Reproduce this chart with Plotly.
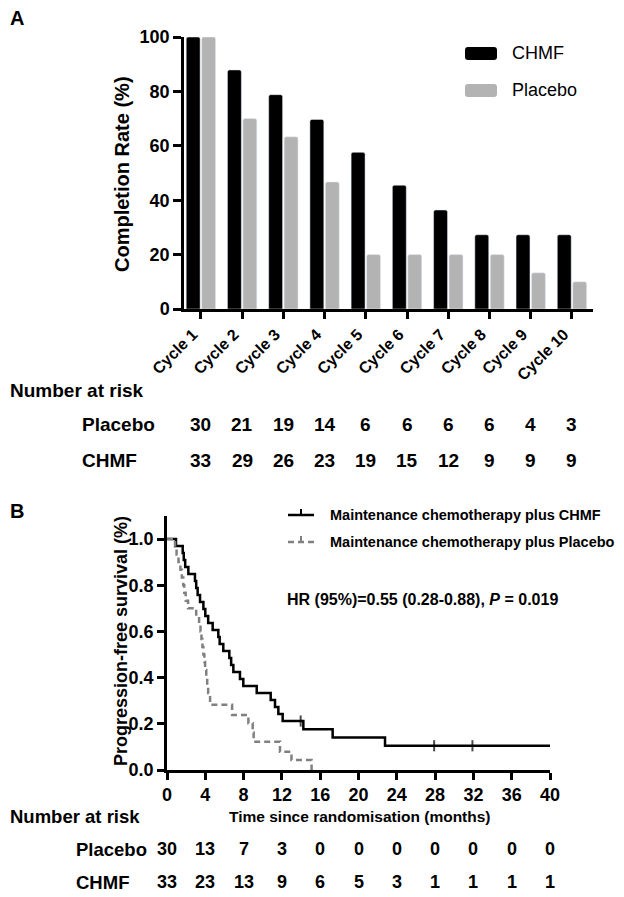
import plotly.graph_objects as go

# ---------------- data ----------------
cycles = ["Cycle 1", "Cycle 2", "Cycle 3", "Cycle 4", "Cycle 5",
          "Cycle 6", "Cycle 7", "Cycle 8", "Cycle 9", "Cycle 10"]
chmf_rate = [100, 87.9, 78.8, 69.7, 57.6, 45.5, 36.4, 27.3, 27.3, 27.3]
placebo_rate = [100, 70.0, 63.3, 46.7, 20.0, 20.0, 20.0, 20.0, 13.3, 10.0]
risk_a_placebo = [30, 21, 19, 14, 6, 6, 6, 6, 4, 3]
risk_a_chmf = [33, 29, 26, 23, 19, 15, 12, 9, 9, 9]

chmf_time = [0, 0.94, 1.64, 1.75, 1.9, 2.23, 2.92, 3.05, 3.2, 3.45, 3.8, 4.0, 4.3,
             4.77, 5.36, 5.5, 5.88, 6.51, 6.7, 6.93, 7.62, 7.97, 9.37, 10.83,
             11.28, 11.63, 12.08, 13.96, 14.24, 17.3, 22.77, 27.9, 31.9, 40]
chmf_surv = [1.0, 0.970, 0.939, 0.909, 0.879, 0.848, 0.818, 0.788, 0.758, 0.727,
             0.697, 0.667, 0.636, 0.606, 0.576, 0.545, 0.515, 0.485, 0.455, 0.424,
             0.394, 0.364, 0.333, 0.303, 0.273, 0.242, 0.212, 0.212, 0.176, 0.141,
             0.105, 0.105, 0.105, 0.105]
chmf_censor = [0] * 27 + [1, 0, 0, 0, 1, 1, 0]

placebo_time = [0, 0.84, 1.0, 1.2, 1.4, 1.55, 1.7, 1.8, 1.95, 2.2, 3.05, 3.35, 3.5,
                3.6, 3.7, 3.8, 3.9, 3.98, 4.1, 4.2, 4.3, 4.5, 6.8, 8.5, 8.95, 9.05,
                11.8, 13.0, 15.1]
placebo_surv = [1.0, 0.967, 0.933, 0.9, 0.867, 0.833, 0.8, 0.767, 0.733, 0.7, 0.667,
                0.633, 0.6, 0.567, 0.533, 0.5, 0.467, 0.433, 0.4, 0.367, 0.333,
                0.283, 0.238, 0.202, 0.162, 0.122, 0.079, 0.043, 0.0]

risk_times = [0, 4, 8, 12, 16, 20, 24, 28, 32, 36, 40]
risk_b_placebo = [30, 13, 7, 3, 0, 0, 0, 0, 0, 0, 0]
risk_b_chmf = [33, 23, 13, 9, 6, 5, 3, 1, 1, 1, 1]

# ---------------- layout helpers ----------------
# the page body has an 8px margin, so the figure is offset by 8px in the window
OFF = 8
W, H = 624 - OFF, 897 - OFF
FONT = "Liberation Sans, Arial, Helvetica, sans-serif"


def px(x):
    return (x - OFF) / W


def py(y):
    return 1 - (y - OFF) / H


BLACK = "#000000"
GREY_BAR = "#b3b3b3"
GREY_LINE = "#808080"

fig = go.Figure()

fig.add_trace(go.Bar(x=cycles, y=chmf_rate, name="CHMF", marker=dict(color=BLACK, cornerradius=2),
                     xaxis="x", yaxis="y", showlegend=False))
fig.add_trace(go.Bar(x=cycles, y=placebo_rate, name="Placebo", marker=dict(color=GREY_BAR, cornerradius=2),
                     xaxis="x", yaxis="y", showlegend=False))

fig.add_trace(go.Scatter(
    x=chmf_time, y=chmf_surv, mode="lines+markers", line=dict(shape="hv", color=BLACK, width=2.5),
    marker=dict(symbol="line-ns", size=[8 if c else 0 for c in chmf_censor],
                line=dict(color=BLACK, width=2)),
    name="Maintenance chemotherapy plus CHMF", xaxis="x2", yaxis="y2", showlegend=False))
fig.add_trace(go.Scatter(
    x=placebo_time, y=placebo_surv, mode="lines",
    line=dict(shape="hv", color=GREY_LINE, width=2.5, dash="6px,4px"),
    name="Maintenance chemotherapy plus Placebo", xaxis="x2", yaxis="y2", showlegend=False))

axis_common = dict(showline=True, linecolor=BLACK, linewidth=2.5, ticks="outside",
                   tickcolor=BLACK, tickwidth=2.5, showgrid=False, zeroline=False,
                   automargin=False,
                   tickfont=dict(family=FONT, size=18, color=BLACK, weight="bold"))

annotations = []


def ann(text, x, y, size, bold=True, xanchor="center", xref="paper", angle=0):
    annotations.append(dict(
        text=text, x=x, y=y, xref=xref, yref="paper", xanchor=xanchor, yanchor="middle",
        showarrow=False, textangle=angle,
        font=dict(family=FONT, size=size, color=BLACK, weight="bold" if bold else "normal")))


ann("A", px(8), py(18), 20, xanchor="left")
ann("B", px(8), py(511), 20, xanchor="left")
ann("Completion Rate (%)", px(122), py(174), 20, angle=-90)
ann("CHMF", px(510), py(53), 18, bold=False, xanchor="left")
ann("Placebo", px(510), py(90), 18, bold=False, xanchor="left")

ann("Number at risk", px(8), py(390), 19, xanchor="left")
ann("Placebo", px(80), py(425), 19, xanchor="left")
ann("CHMF", px(80), py(460), 19, xanchor="left")
for c, v in zip(cycles, risk_a_placebo):
    ann(str(v), c, py(425), 19, xref="x")
for c, v in zip(cycles, risk_a_chmf):
    ann(str(v), c, py(460), 19, xref="x")

ann("Progression-free survival (%)", px(121), py(641), 18, angle=-90)
ann("HR (95%)=0.55 (0.28-0.88), <i>P</i> = 0.019", px(285), py(599), 16, xanchor="left")
ann("Time since randomisation (months)", px(360), py(816), 15.5)
ann("Number at risk", px(8), py(816), 18.5, xanchor="left")
ann("Placebo", px(74), py(849), 18.5, xanchor="left")
ann("CHMF", px(74), py(882), 18.5, xanchor="left")
for t, v in zip(risk_times, risk_b_placebo):
    ann(str(v), t, py(849), 18, xref="x2")
for t, v in zip(risk_times, risk_b_chmf):
    ann(str(v), t, py(882), 18, xref="x2")

# legend B (drawn manually)
ann("Maintenance chemotherapy plus CHMF", px(328), py(515), 14.5, xanchor="left")
ann("Maintenance chemotherapy plus Placebo", px(328), py(542), 14.5, xanchor="left")


def rrect(x0, y0, x1, y1, r):
    return (f"M{px(x0 + r)},{py(y0)} L{px(x1 - r)},{py(y0)} Q{px(x1)},{py(y0)} {px(x1)},{py(y0 + r)} "
            f"L{px(x1)},{py(y1 - r)} Q{px(x1)},{py(y1)} {px(x1 - r)},{py(y1)} "
            f"L{px(x0 + r)},{py(y1)} Q{px(x0)},{py(y1)} {px(x0)},{py(y1 - r)} "
            f"L{px(x0)},{py(y0 + r)} Q{px(x0)},{py(y0)} {px(x0 + r)},{py(y0)} Z")


def pline(x0, y0, x1, y1, color, dash="solid", width=2.5):
    return dict(type="line", xref="paper", yref="paper", x0=px(x0), y0=py(y0), x1=px(x1), y1=py(y1),
                line=dict(color=color, width=width, dash=dash))


shapes = [
    dict(type="path", xref="paper", yref="paper", path=rrect(465, 47, 497, 60, 3),
         fillcolor=BLACK, line=dict(width=0)),
    dict(type="path", xref="paper", yref="paper", path=rrect(465, 84, 497, 97, 3),
         fillcolor=GREY_BAR, line=dict(width=0)),
    pline(288, 515, 314, 515, BLACK),
    pline(301, 515, 301, 509, BLACK, width=2),
    pline(288, 542, 314, 542, GREY_LINE, dash="6px,4px"),
    pline(301, 542, 301, 536, GREY_LINE, width=2),
]

fig.update_layout(
    width=W, height=H, margin=dict(l=0, r=0, t=0, b=0, autoexpand=False),
    paper_bgcolor="white", plot_bgcolor="white",
    barmode="group", bargap=0.25, bargroupgap=0.1,
    showlegend=False,
    font=dict(family=FONT, color=BLACK),
    xaxis=dict(axis_common, domain=[px(184), px(593)], anchor="y", type="category",
               range=[-0.41, 9.51], ticklen=7, tickangle=-45, ticklabelshift=-8,
               tickfont=dict(family=FONT, size=16, color=BLACK, weight="bold")),
    yaxis=dict(axis_common, domain=[py(309), py(37)], anchor="x", range=[0, 100],
               dtick=20, ticklen=8),
    xaxis2=dict(axis_common, domain=[px(167), px(550)], anchor="y2", range=[0, 40],
                dtick=4, ticklen=7),
    yaxis2=dict(axis_common, domain=[py(770), py(515.9)], anchor="x2", range=[0, 1.1],
                tickvals=[0, 0.2, 0.4, 0.6, 0.8, 1.0], tickformat=".1f", ticklen=7),
    annotations=annotations,
    shapes=shapes,
)

fig.write_html("out.html")
